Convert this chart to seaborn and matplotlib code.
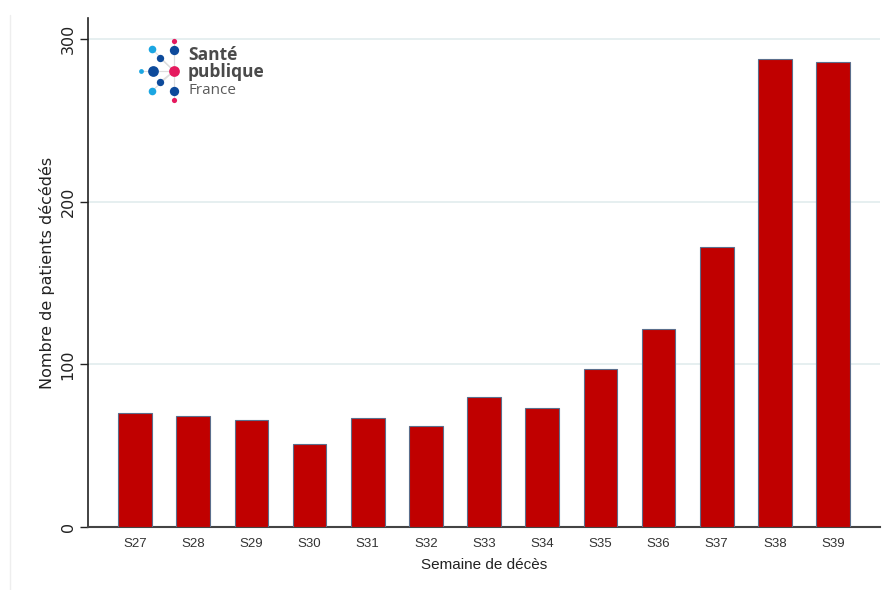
import seaborn as sns
import matplotlib.pyplot as plt
from matplotlib.lines import Line2D
import pandas as pd

# weekly deaths
semaines = ["S27", "S28", "S29", "S30", "S31", "S32", "S33", "S34", "S35", "S36", "S37", "S38", "S39"]
deces = [70, 68, 66, 51, 67, 62, 80, 73, 97, 122, 172, 288, 286]
yticks = [0, 100, 200, 300]

df = pd.DataFrame({"semaine": semaines, "deces": deces})

sns.set_style("white")
plt.rcParams["font.family"] = ["Liberation Sans", "DejaVu Sans"]

fig = plt.figure(figsize=(8.89, 5.90), dpi=100)
ax = fig.add_axes([0.099, 0.1068, 0.891, 0.8627])

sns.barplot(data=df, x="semaine", y="deces", color="#C00000", saturation=1,
            width=0.58, edgecolor="#5B6E8C", linewidth=0.8, ax=ax, zorder=3)

ax.set_xlim(-0.81, 12.81)
ax.set_ylim(0, 313)
ax.set_yticks(yticks)
ax.set_yticklabels([str(v) for v in yticks], rotation=90, va="center", fontsize=11.5,
                   color="#222222", family=["DejaVu Sans"])
ax.tick_params(axis="y", length=6, width=1, color="#222222", pad=3, left=True)
ax.tick_params(axis="x", length=0, pad=8)
for lab in ax.get_xticklabels():
    lab.set_family(["Liberation Sans Narrow", "Liberation Sans"])
    lab.set_fontsize(9.5)
    lab.set_color("#333333")

ax.yaxis.grid(True, color="#E2ECEE", linewidth=1.2, zorder=0)
ax.set_axisbelow(True)
for s in ["top", "right"]:
    ax.spines[s].set_visible(False)
ax.spines["left"].set_color("#222222")
ax.spines["bottom"].set_color("#444444")
ax.spines["left"].set_linewidth(1.2)
ax.spines["bottom"].set_linewidth(1.5)

ax.set_xlabel("Semaine de décès", fontsize=11, color="#222222", labelpad=6)
ax.set_ylabel("Nombre de patients décédés", fontsize=11.5, color="#222222", labelpad=4,
              family=["DejaVu Sans"])

# thin frame line on the left
fig.add_artist(Line2D([10 / 889, 10 / 889], [0, 575 / 590], color="#EEEEEE", linewidth=1))

# logo Santé publique France
lx = fig.add_axes([0, 0, 1, 1], facecolor="none")
lx.set_xlim(0, 889)
lx.set_ylim(590, 0)
lx.axis("off")
centre = (174, 71)
dots = [(174, 41, "#E5195E", 14), (174, 50, "#0D4A9B", 45), (152, 49, "#1BA6E2", 30),
        (160, 58, "#0D4A9B", 28), (141, 71, "#1BA6E2", 12), (153, 71, "#0D4A9B", 60),
        (160, 82, "#0D4A9B", 28), (152, 91, "#1BA6E2", 30), (174, 91, "#0D4A9B", 45),
        (174, 100, "#E5195E", 14)]
for x, y, c, s in dots:
    lx.plot([centre[0], x], [centre[1], y], color="#DDDDDD", linewidth=0.8, zorder=1)
for x, y, c, s in dots:
    lx.scatter(x, y, s=s, color=c, zorder=2, linewidths=0)
lx.scatter(*centre, s=60, color="#E5195E", zorder=2, linewidths=0)
lx.text(188, 55, "Santé", fontsize=12.5, fontweight="bold", color="#4A4A4A", va="center", family=["Open Sans", "DejaVu Sans"])
lx.text(188, 72, "publique", fontsize=12.5, fontweight="bold", color="#4A4A4A", va="center", family=["Open Sans", "DejaVu Sans"])
lx.text(188, 90, "France", fontsize=11, color="#5A5A5A", va="center", family=["Open Sans", "DejaVu Sans"])

fig.savefig("out.png", dpi=100)
